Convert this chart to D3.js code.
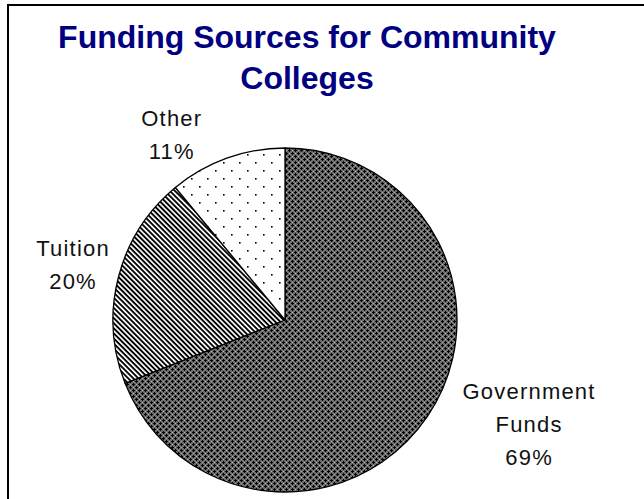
<!DOCTYPE html>
<html>
<head>
<meta charset="utf-8">
<script src="https://cdn.jsdelivr.net/npm/d3@7"></script>
<style>
  body { margin: 0; background: #fff; }
  svg { display: block; }
</style>
</head>
<body>
<div id="chart"></div>
<script>
// data
const sources = ["Government Funds", "Tuition", "Other"];
const shares = [69, 20, 11];
const labelLines = [["Government", "Funds", "69%"], ["Tuition", "20%"], ["Other", "11%"]];

const width = 644,
      height = 499;

const svg = d3.select("#chart")
  .append("svg")
    .attr("width", width)
    .attr("height", height);

// frame (cropped on right and bottom)
svg.append("rect")
  .attr("x", 8)
  .attr("y", 5)
  .attr("width", width + 20)
  .attr("height", height + 20)
  .attr("fill", "#fff")
  .attr("stroke", "#000")
  .attr("stroke-width", 2);

// fill patterns
const defs = svg.append("defs");

const gov = defs.append("pattern")
  .attr("id", "pat-gov")
  .attr("patternUnits", "userSpaceOnUse")
  .attr("width", 6).attr("height", 6);
gov.append("rect").attr("width", 6).attr("height", 6).attr("fill", "#6e6e6e");
[[1, 1], [4, 4]].forEach(function(p) {
  gov.append("rect").attr("x", p[0] - 1).attr("y", p[1]).attr("width", 3).attr("height", 1).attr("fill", "#000");
  gov.append("rect").attr("x", p[0]).attr("y", p[1] - 1).attr("width", 1).attr("height", 3).attr("fill", "#000");
});
[[4, 1], [1, 4]].forEach(function(p) {
  gov.append("rect").attr("x", p[0]).attr("y", p[1]).attr("width", 1).attr("height", 1).attr("fill", "#b4b4b4");
});

const tui = defs.append("pattern")
  .attr("id", "pat-tui")
  .attr("patternUnits", "userSpaceOnUse")
  .attr("width", 4).attr("height", 3.6)
  .attr("patternTransform", "rotate(45)");
tui.append("rect").attr("width", 4).attr("height", 3.6).attr("fill", "#fff");
tui.append("rect").attr("width", 4).attr("height", 1.9).attr("fill", "#000");

const oth = defs.append("pattern")
  .attr("id", "pat-oth")
  .attr("patternUnits", "userSpaceOnUse")
  .attr("width", 16).attr("height", 16);
oth.append("rect").attr("width", 16).attr("height", 16).attr("fill", "#fff");
[[2, 2], [10, 10]].forEach(function(p) {
  oth.append("rect").attr("x", p[0]).attr("y", p[1]).attr("width", 1.6).attr("height", 1.6).attr("fill", "#000");
});

const fillScale = d3.scaleOrdinal()
  .domain(sources)
  .range(["url(#pat-gov)", "url(#pat-tui)", "url(#pat-oth)"]);

// pie
const cx = 285, cy = 320, radius = 172;

const pie = d3.pie().sort(null).value(function(d) { return d.value; });
const arcs = pie(sources.map(function(s, i) { return { name: s, value: shares[i], lines: labelLines[i] }; }));

const arc = d3.arc().innerRadius(0).outerRadius(radius);
const labelArc = d3.arc().innerRadius(225).outerRadius(225);

const g = svg.append("g").attr("transform", `translate(${cx},${cy})`);

g.selectAll("path")
  .data(arcs)
  .join("path")
    .attr("d", arc)
    .attr("fill", function(d) { return fillScale(d.data.name); })
    .attr("stroke", "#000")
    .attr("stroke-width", 1.3)
    .attr("stroke-linejoin", "round");

// label nudges away from the label arc (Excel-like placement)
const labelNudge = [[58, -22], [6, 0], [-37, 26]];
const lineHeight = 33;

g.selectAll("text.slice-label")
  .data(arcs)
  .join("text")
    .attr("class", "slice-label")
    .attr("text-anchor", "middle")
    .style("font-family", "'Liberation Sans', Arial, sans-serif")
    .style("font-size", "22px")
    .style("letter-spacing", "1.2px")
    .style("fill", "#111")
    .each(function(d, i) {
      const c = labelArc.centroid(d);
      const x = c[0] + labelNudge[i][0];
      const y = c[1] + labelNudge[i][1];
      const n = d.data.lines.length;
      d3.select(this).selectAll("tspan")
        .data(d.data.lines)
        .join("tspan")
          .attr("x", x)
          .attr("y", function(t, j) { return y + (j - (n - 1) / 2) * lineHeight + 8; })
          .text(function(t) { return t; });
    });

// title
const title = svg.append("text")
  .attr("text-anchor", "middle")
  .style("font-family", "'Liberation Sans', Arial, sans-serif")
  .style("font-weight", "bold")
  .style("font-size", "32px")
  .style("fill", "#000080");
title.append("tspan").attr("x", 307).attr("y", 48).text("Funding Sources for Community");
title.append("tspan").attr("x", 307).attr("y", 89).text("Colleges");
</script>
</body>
</html>
